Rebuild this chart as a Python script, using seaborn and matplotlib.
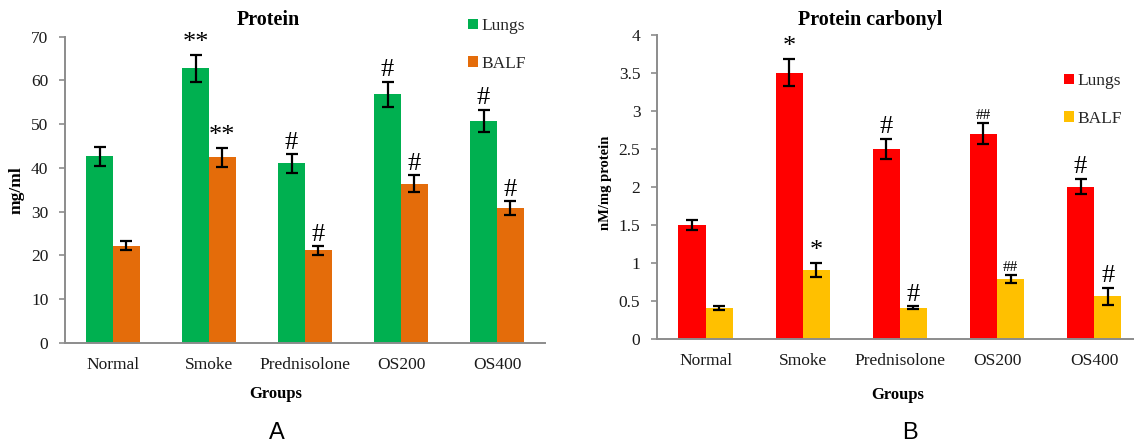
import numpy as np
import pandas as pd
import seaborn as sns
import matplotlib
matplotlib.use("Agg")
import matplotlib.pyplot as plt
from matplotlib.ticker import FuncFormatter, MultipleLocator

# ---------------- data ----------------
groups = ["Normal", "Smoke", "Prednisolone", "OS200", "OS400"]
series = ["Lungs", "BALF"]

protein_lungs = [42.6, 62.8, 41.0, 56.8, 50.7]
protein_lungs_err = [2.2, 3.1, 2.1, 2.9, 2.6]
protein_balf = [22.2, 42.4, 21.1, 36.4, 30.8]
protein_balf_err = [1.1, 2.2, 1.0, 1.9, 1.6]
protein_lungs_sig = ["", "**", "#", "#", "#"]
protein_balf_sig = ["", "**", "#", "#", "#"]

carbonyl_lungs = [1.5, 3.5, 2.5, 2.7, 2.0]
carbonyl_lungs_err = [0.07, 0.18, 0.13, 0.14, 0.10]
carbonyl_balf = [0.41, 0.91, 0.41, 0.79, 0.56]
carbonyl_balf_err = [0.03, 0.09, 0.02, 0.05, 0.11]
carbonyl_lungs_sig = ["", "*", "#", "##", "#"]
carbonyl_balf_sig = ["", "*", "#", "##", "#"]

sns.set_theme(style="white")
plt.rcParams["font.family"] = ["Liberation Serif", "DejaVu Serif"]

W, H = 1134, 442
fig = plt.figure(figsize=(W / 100, H / 100), dpi=100)


def fx(px):
    return px / W


def fy(py):
    return 1 - py / H


AXIS_COLOR = "#8c8c8c"
TXT = "#1a1a1a"


def panel(rect, lungs, lungs_err, balf, balf_err, sig_l, sig_b, colors,
          ylim, ystep, xlim, off, small_fs):
    ax = fig.add_axes(rect)
    df = pd.DataFrame({
        "Group": groups * 2,
        "Series": [series[0]] * len(groups) + [series[1]] * len(groups),
        "Value": list(lungs) + list(balf),
    })
    sns.barplot(data=df, x="Group", y="Value", hue="Series", order=groups,
                hue_order=series, palette=dict(zip(series, colors)),
                width=0.56, gap=0, errorbar=None, linewidth=0, ax=ax,
                saturation=1)
    errs = [lungs_err, balf_err]
    vals = [lungs, balf]
    sigs = [sig_l, sig_b]
    bar_conts = list(ax.containers)
    for ci, cont in enumerate(bar_conts):
        xs = [b.get_x() + b.get_width() / 2 for b in cont]
        ax.errorbar(xs, vals[ci], yerr=errs[ci], fmt="none", ecolor="black",
                    elinewidth=1.6, capsize=4, capthick=1.6, zorder=5)
        for x, v, e, s in zip(xs, vals[ci], errs[ci], sigs[ci]):
            if s:
                fs = small_fs if s == "##" else 19
                ax.text(x, v + e + off, s, ha="center", va="bottom",
                        fontsize=fs, color="black", zorder=6)
    ax.set_xlim(*xlim)
    ax.set_ylim(*ylim)
    ax.yaxis.set_major_locator(MultipleLocator(ystep))
    ax.yaxis.set_major_formatter(FuncFormatter(lambda v, p: f"{v:g}"))
    ax.set_xlabel("")
    ax.set_ylabel("")
    for s in ["top", "right"]:
        ax.spines[s].set_visible(False)
    for s in ["left", "bottom"]:
        ax.spines[s].set_color(AXIS_COLOR)
        ax.spines[s].set_linewidth(1.4)
    ax.tick_params(axis="y", length=4, width=1.2, color=AXIS_COLOR,
                   labelsize=12.5, labelcolor=TXT, pad=8, left=True)
    ax.tick_params(axis="x", length=0, labelsize=12.5, labelcolor=TXT, pad=10)
    if ax.legend_ is not None:
        ax.legend_.remove()
    return ax, bar_conts


axA, contA = panel([fx(65), fy(342.7), fx(545 - 65), (342.7 - 36.7) / H],
                   protein_lungs, protein_lungs_err, protein_balf, protein_balf_err,
                   protein_lungs_sig, protein_balf_sig, ["#00b050", "#e46c0a"],
                   (0, 70), 10, (-0.5, 4.5), 0.1, 17)
axB, contB = panel([fx(657), fy(339), fx(1134 - 657), (339 - 34.7) / H],
                   carbonyl_lungs, carbonyl_lungs_err, carbonyl_balf, carbonyl_balf_err,
                   carbonyl_lungs_sig, carbonyl_balf_sig, ["#ff0000", "#ffc000"],
                   (0, 4), 0.5, (-0.5, 4.41), 0.01, 11)

# legends
for ax, conts, x0, ytop in [(axA, contA, 468, 18), (axB, contB, 1064, 73)]:
    handles = [c.patches[0] for c in conts]
    ax.legend(handles, series, loc="upper left",
              bbox_to_anchor=(fx(x0), fy(ytop)), bbox_transform=fig.transFigure,
              frameon=False, borderpad=0, borderaxespad=0, fontsize=12.5,
              handlelength=0.55, handleheight=0.55, handletextpad=0.25,
              labelspacing=1.25)

# titles, axis labels
fig.text(fx(268), fy(20), "Protein", ha="center", va="center",
         fontsize=14.5, fontweight="bold", color="black")
fig.text(fx(870), fy(20), "Protein carbonyl", ha="center", va="center",
         fontsize=14.5, fontweight="bold", color="black")
fig.text(fx(276), fy(394), "Groups", ha="center", va="center",
         fontsize=12, fontweight="bold", color="black")
fig.text(fx(898), fy(395), "Groups", ha="center", va="center",
         fontsize=12, fontweight="bold", color="black")
fig.text(fx(17), fy(190), "mg/ml", ha="center", va="center", rotation=90,
         fontsize=12.5, fontweight="bold", color="black")
fig.text(fx(606), fy(183), "nM/mg protein", ha="center", va="center",
         rotation=90, fontsize=10.5, fontweight="bold", color="black")
fig.text(fx(277), fy(433), "A", ha="center", va="center", fontsize=17,
         family=["Liberation Sans", "DejaVu Sans"], color="black")
fig.text(fx(910), fy(433), "B", ha="center", va="center", fontsize=17,
         family=["Liberation Sans", "DejaVu Sans"], color="black")

fig.savefig("out.png", dpi=100)
